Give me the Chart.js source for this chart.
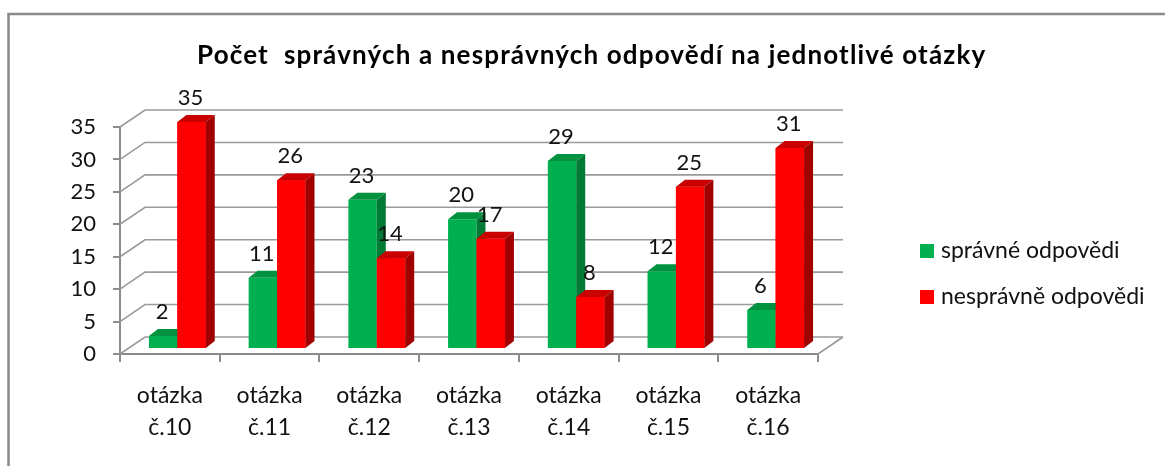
<!DOCTYPE html>
<html>
<head>
<meta charset="utf-8">
<script src="https://cdn.jsdelivr.net/npm/chart.js@4.4.1/dist/chart.umd.min.js"></script>
<style>
  html, body { margin: 0; background: #fff; }
  canvas { display: block; }
</style>
</head>
<body>
<canvas id="chart" width="1165" height="466"></canvas>
<script>
const categories = [
  ["otázka", "č.10"],
  ["otázka", "č.11"],
  ["otázka", "č.12"],
  ["otázka", "č.13"],
  ["otázka", "č.14"],
  ["otázka", "č.15"],
  ["otázka", "č.16"],
];
const correct = [2, 11, 23, 20, 29, 12, 6];
const wrong = [35, 26, 14, 17, 8, 25, 31];
const seriesNames = ["správné odpovědi", "nesprávně odpovědi"];
const title = "Počet  správných a nesprávných odpovědí na jednotlivé otázky";

const FONT = 'Lato, "Noto Sans", sans-serif';
const TEXT = "#111";
const GRID = "#9a9a9a";
const DEPTH = { x: 25, y: -17 };     // depth of the floor / walls
const SHIFT = { x: 7.5, y: -5 };     // bars sit a bit back from the front axis
const BAR_DEPTH = { x: 9, y: -7 };
const colors = ["#00b050", "#ff0000"];
const faceColors = [
  { top: "#00923f", side: "#007a34" },
  { top: "#c80000", side: "#a00000" },
];

function poly(ctx, pts, color) {
  ctx.beginPath();
  ctx.moveTo(pts[0][0], pts[0][1]);
  for (let i = 1; i < pts.length; i++) ctx.lineTo(pts[i][0], pts[i][1]);
  ctx.closePath();
  ctx.fillStyle = color;
  ctx.fill();
}

const threeD = {
  id: "threeD",
  beforeDraw(chart) {
    const ctx = chart.ctx;
    ctx.save();
    ctx.strokeStyle = "#8a8a8a";
    ctx.lineWidth = 2.5;
    ctx.beginPath();
    ctx.moveTo(8.5, 466);
    ctx.lineTo(8.5, 14);
    ctx.lineTo(1165, 14);
    ctx.stroke();
    ctx.restore();
  },
  beforeDatasetsDraw(chart) {
    const { ctx, chartArea: a, scales } = chart;
    const y = scales.y;
    ctx.save();
    ctx.strokeStyle = GRID;
    ctx.lineWidth = 1.6;
    y.ticks.forEach((t) => {
      const py = y.getPixelForValue(t.value);
      ctx.beginPath();
      ctx.moveTo(a.left, py);
      ctx.lineTo(a.left + DEPTH.x, py + DEPTH.y);
      ctx.lineTo(a.right + DEPTH.x, py + DEPTH.y);
      ctx.stroke();
    });
    // right edge of the floor
    ctx.beginPath();
    ctx.moveTo(a.right, a.bottom);
    ctx.lineTo(a.right + DEPTH.x, a.bottom + DEPTH.y);
    ctx.stroke();
    ctx.restore();

    ctx.save();
    ctx.translate(SHIFT.x, SHIFT.y);
  },
  afterDatasetsDraw(chart) {
    const ctx = chart.ctx;
    chart.data.datasets.forEach((ds, i) => {
      const meta = chart.getDatasetMeta(i);
      meta.data.forEach((bar) => {
        if (i > 0) bar.draw(ctx); // red front must cover green side face
        const { x, y, base, width } = bar.getProps(["x", "y", "base", "width"], true);
        const l = x - width / 2;
        const r = x + width / 2;
        const dx = BAR_DEPTH.x, dy = BAR_DEPTH.y;
        poly(ctx, [[l, y], [r, y], [r + dx, y + dy], [l + dx, y + dy]], faceColors[i].top);
        poly(ctx, [[r, y], [r + dx, y + dy], [r + dx, base + dy], [r, base]], faceColors[i].side);
      });
    });

    // value labels
    ctx.fillStyle = TEXT;
    ctx.font = "22px " + FONT;
    ctx.textAlign = "center";
    ctx.textBaseline = "middle";
    chart.data.datasets.forEach((ds, i) => {
      chart.getDatasetMeta(i).data.forEach((bar, j) => {
        ctx.fillText(String(ds.data[j]), bar.x - 1, bar.y - 24);
      });
    });
    ctx.restore();
  },
  afterDraw(chart) {
    const ctx = chart.ctx;
    ctx.save();
    ctx.fillStyle = "#000";
    ctx.font = "bold 26px " + FONT;
    // stretch a little to the width of the original title
    const w = ctx.measureText(title).width;
    ctx.letterSpacing = Math.max(0, (788 - w) / (title.length - 1)).toFixed(2) + "px";
    ctx.textAlign = "left";
    ctx.textBaseline = "alphabetic";
    ctx.fillText(title, 197, 64);
    ctx.letterSpacing = "0px";

    // legend
    ctx.font = "23px " + FONT;
    ctx.textAlign = "left";
    ctx.textBaseline = "middle";
    const rows = [251, 297];
    chart.data.datasets.forEach((ds, i) => {
      ctx.fillStyle = ds.backgroundColor;
      ctx.fillRect(920, rows[i] - 7, 14, 14);
      ctx.fillStyle = TEXT;
      ctx.fillText(ds.label, 941, rows[i]);
    });
    ctx.restore();
  },
};

new Chart(document.getElementById("chart"), {
  type: "bar",
  data: {
    labels: categories,
    datasets: [
      { label: seriesNames[0], data: correct, backgroundColor: colors[0], clip: false },
      { label: seriesNames[1], data: wrong, backgroundColor: colors[1], clip: false },
    ],
  },
  options: {
    responsive: false,
    animation: false,
    devicePixelRatio: 1,
    categoryPercentage: 0.57,
    barPercentage: 1.0,
    layout: { padding: { left: 60, right: 347, top: 127, bottom: 0 } },
    plugins: {
      legend: { display: false },
      title: { display: false },
      tooltip: { enabled: false },
    },
    scales: {
      x: {
        grid: { drawOnChartArea: false, drawTicks: true, tickLength: 8, color: "#8c8c8c", lineWidth: 2 },
        border: { display: true, color: "#8c8c8c", width: 2 },
        ticks: {
          color: TEXT,
          font: { family: FONT, size: 23, lineHeight: 1.4 },
          padding: 17,
          maxRotation: 0,
          autoSkip: false,
        },
        afterFit: (s) => { s.height = 112; },
      },
      y: {
        min: 0,
        max: 35,
        grid: { drawOnChartArea: false, drawTicks: true, tickLength: 7, color: "#8c8c8c", lineWidth: 2 },
        border: { display: true, color: "#8c8c8c", width: 2 },
        ticks: { stepSize: 5, color: TEXT, font: { family: FONT, size: 22 }, padding: 17 },
        afterFit: (s) => { s.width = 60; },
      },
    },
  },
  plugins: [threeD],
});
</script>
</body>
</html>
